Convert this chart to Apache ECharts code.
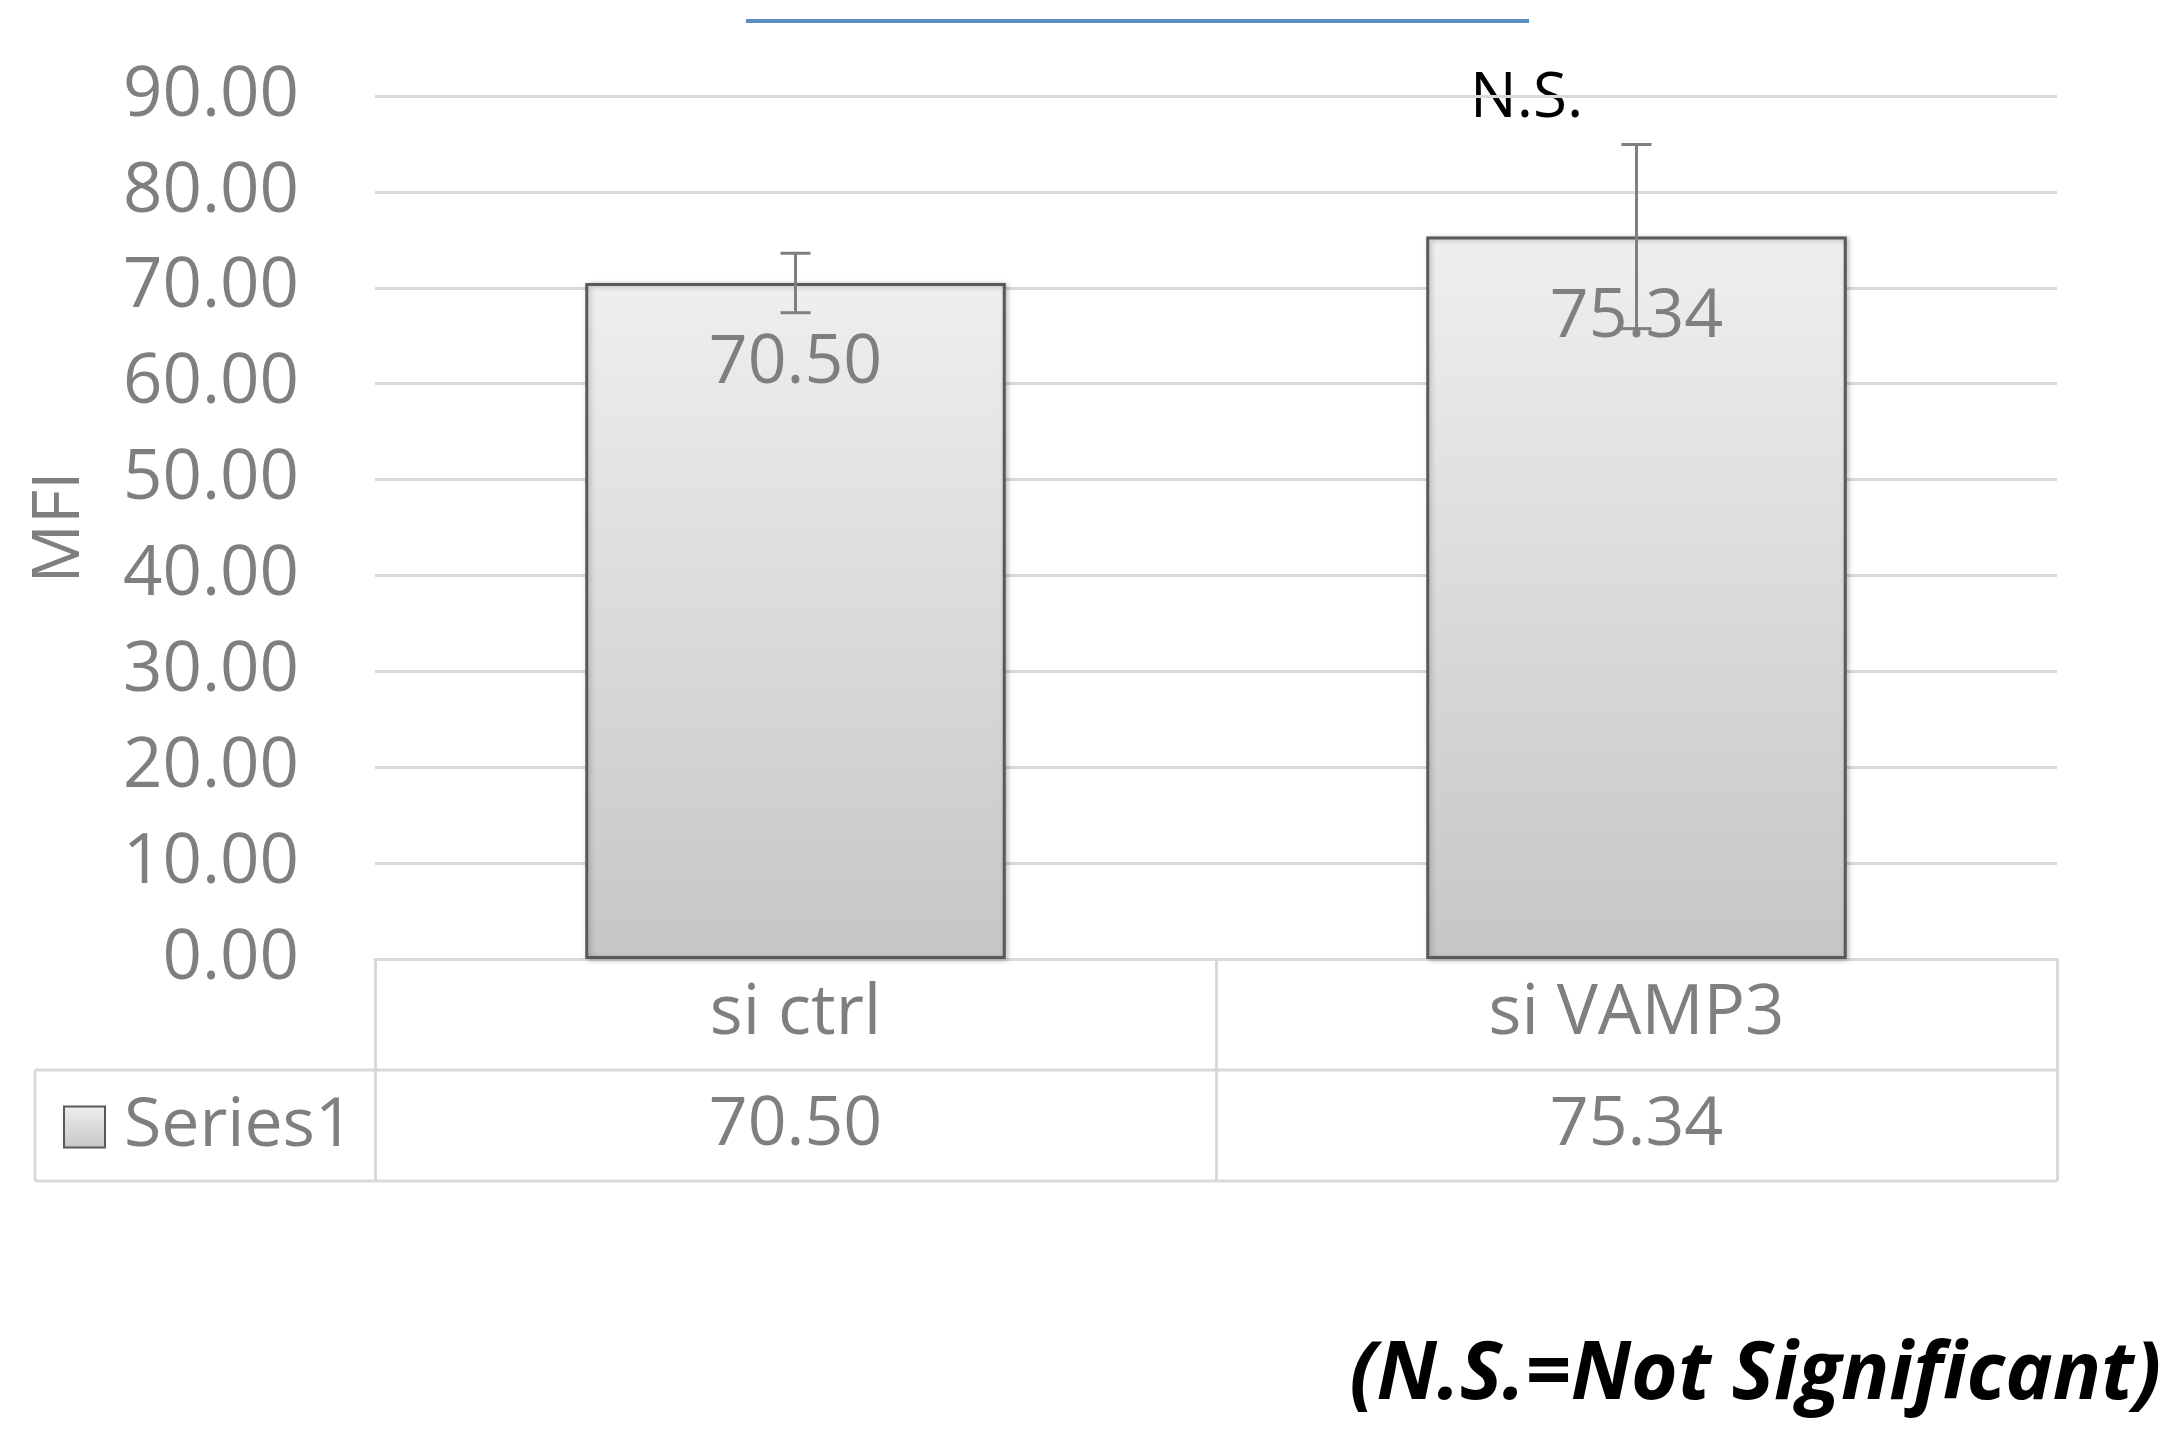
<!DOCTYPE html>
<html>
<head>
<meta charset="utf-8">
<style>
  html, body { margin: 0; padding: 0; background: #fff; }
  #chart { width: 2179px; height: 1443px; }
</style>
<script src="https://cdn.jsdelivr.net/npm/echarts@6/dist/echarts.min.js"></script>
</head>
<body>
<div id="chart"></div>
<script>
const categories = ['si ctrl', 'si VAMP3']
const mfiValues = [70.50, 75.34]
const errorValues = [3.1, 9.6]
const seriesName = 'Series1'
const sigLabel = 'N.S.'
const footnote = '(N.S.=Not Significant)'

const gray = '#7f7f7f'
const lineGray = '#d9d9d9'
const font = '"Open Sans", "Noto Sans", sans-serif'

// plot area in page pixels
const gridLeft = 375
const gridRight = 122
const gridTop = 96
const gridBottom = 484
const rowH = 111
const axisY = 1443 - gridBottom

const chart = echarts.init(document.getElementById('chart'))

const option = {
  animation: false,
  backgroundColor: '#fff',
  grid: { left: gridLeft, right: gridRight, top: gridTop, bottom: gridBottom, containLabel: false },
  legend: {
    data: [seriesName],
    left: 58,
    top: axisY + rowH + 18,
    icon: 'rect',
    itemWidth: 41,
    itemHeight: 41,
    itemGap: 10,
    textStyle: { fontFamily: font, fontSize: 68, color: gray, padding: [0, 0, 0, 14] }
  },
  xAxis: {
    type: 'category',
    data: categories,
    axisLine: { show: true, lineStyle: { color: lineGray, width: 3 } },
    axisTick: { show: true, interval: 0, length: rowH * 2, lineStyle: { color: lineGray, width: 3 } },
    axisLabel: {
      interval: 0,
      margin: 0,
      formatter: (val, idx) => `{c|${val}}\n{v|${mfiValues[idx].toFixed(2)}}`,
      rich: {
        c: { fontFamily: font, fontSize: 69, color: gray, lineHeight: rowH },
        v: { fontFamily: font, fontSize: 68, color: gray, lineHeight: rowH }
      }
    }
  },
  yAxis: {
    type: 'value',
    min: 0,
    max: 90,
    interval: 10,
    name: 'MFI',
    nameLocation: 'middle',
    nameGap: 282,
    nameTextStyle: { fontFamily: font, fontSize: 66, color: gray },
    axisLine: { show: false },
    axisTick: { show: false },
    axisLabel: {
      margin: 76,
      fontFamily: font,
      fontSize: 69,
      color: gray,
      formatter: v => v.toFixed(2)
    },
    splitLine: { lineStyle: { color: lineGray, width: 3 } }
  },
  series: [
    {
      name: seriesName,
      type: 'bar',
      data: mfiValues,
      barWidth: '50%',
      itemStyle: {
        color: new echarts.graphic.LinearGradient(0, 0, 0, 1, [
          { offset: 0, color: '#efefef' },
          { offset: 1, color: '#c6c6c6' }
        ]),
        borderColor: '#595959',
        borderWidth: 3,
        shadowBlur: 5,
        shadowOffsetX: 2,
        shadowOffsetY: 1,
        shadowColor: 'rgba(0,0,0,0.25)'
      },
      label: {
        show: true,
        position: 'insideTop',
        distance: 47,
        fontFamily: font,
        fontSize: 68,
        color: gray,
        formatter: p => p.value.toFixed(2)
      },
      z: 2
    },
    {
      name: 'error',
      type: 'custom',
      data: mfiValues.map((v, i) => [i, v - errorValues[i], v + errorValues[i]]),
      renderItem: (params, api) => {
        const lo = api.coord([api.value(0), api.value(1)])
        const hi = api.coord([api.value(0), api.value(2)])
        const cap = 15
        const style = { stroke: gray, lineWidth: 3 }
        return {
          type: 'group',
          children: [
            { type: 'line', shape: { x1: hi[0], y1: hi[1], x2: lo[0], y2: lo[1] }, style },
            { type: 'line', shape: { x1: hi[0] - cap, y1: hi[1], x2: hi[0] + cap, y2: hi[1] }, style },
            { type: 'line', shape: { x1: lo[0] - cap, y1: lo[1], x2: lo[0] + cap, y2: lo[1] }, style }
          ]
        }
      },
      z: 5
    }
  ],
  graphic: [
    // table rows below the axis
    { type: 'line', shape: { x1: 35, y1: axisY + rowH, x2: 2179 - gridRight, y2: axisY + rowH }, style: { stroke: lineGray, lineWidth: 3 } },
    { type: 'line', shape: { x1: 35, y1: axisY + rowH * 2, x2: 2179 - gridRight, y2: axisY + rowH * 2 }, style: { stroke: lineGray, lineWidth: 3 } },
    { type: 'line', shape: { x1: 35, y1: axisY + rowH, x2: 35, y2: axisY + rowH * 2 }, style: { stroke: lineGray, lineWidth: 3 } },
    // leftover bracket line at the top
    { type: 'line', shape: { x1: 746, y1: 21, x2: 1529, y2: 21 }, style: { stroke: '#5b8fc2', lineWidth: 4 } },
    {
      type: 'text', left: 1470, top: 68,
      style: { text: sigLabel, fontFamily: font, fontSize: 62, fill: '#000' }
    },
    {
      type: 'text', right: 18, top: 1336,
      style: { text: footnote, fontFamily: font, fontSize: 80, fontWeight: 'bold', fontStyle: 'italic', fill: '#000' }
    }
  ]
}

chart.setOption(option)
window.addEventListener('resize', () => chart.resize())
</script>
</body>
</html>
